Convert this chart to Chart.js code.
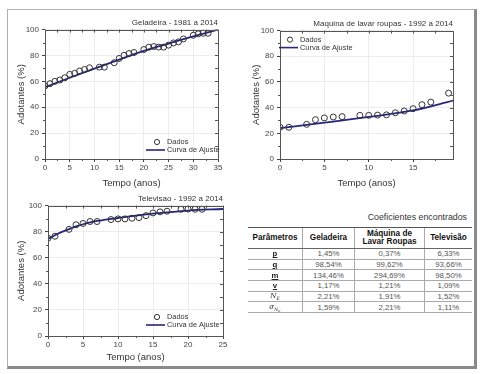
<!DOCTYPE html>
<html>
<head>
<meta charset="utf-8">
<script src="https://cdn.jsdelivr.net/npm/chart.js@4.4.1/dist/chart.umd.min.js"></script>
<style>
body{margin:0;width:481px;height:374px;background:#fff;position:relative;overflow:hidden;font-family:"Liberation Sans",Arial,sans-serif;}
#frame{position:absolute;left:7px;top:9px;width:466px;height:356px;border-left:1px solid #b0b0b0;border-top:1px solid #b0b0b0;border-right:3px solid #8a8a8a;border-bottom:3px solid #8a8a8a;}
canvas{position:absolute;}
#c1{left:8px;top:12px;}
#c2{left:243px;top:13px;}
#c3{left:8px;top:188px;}
#cap{position:absolute;left:290px;width:177px;top:212px;text-align:right;font-size:8.8px;color:#333;}
table{position:absolute;left:248px;top:227px;width:221px;border-collapse:collapse;font-size:7.8px;color:#555;table-layout:fixed;}
th{color:#111;font-weight:bold;font-size:8.2px;height:20px;line-height:8.5px;padding:0;border-top:1px solid #555;border-bottom:1px solid #666;}
td{height:9.7px;padding:0;text-align:center;border-bottom:1px solid #aaa;line-height:9px;overflow:hidden;}
th+th,td+td{border-left:1px solid #aaa;}
td.p{color:#222;font-weight:bold;text-decoration:underline;}
td.i{color:#222;font-style:italic;font-family:"DejaVu Serif",serif;font-size:7px;}
.sb{font-size:4.5px;position:relative;top:2px;line-height:0;}
</style>
</head>
<body>
<div id="frame"></div>
<canvas id="c1" width="222" height="182"></canvas>
<canvas id="c2" width="225" height="181"></canvas>
<canvas id="c3" width="225" height="180"></canvas>
<div id="cap">Coeficientes encontrados</div>
<table id="tab"></table>
<script>
// Geladeira 1981-2014
var gelT = [0,1,2,3,4,5,6,7,8,9,11,12,14,15,16,17,18,20,21,22,23,24,25,26,27,28,30,31,32,33];
var gelY = [56.5,58.2,60,61,62.8,65.4,66.2,68,69.2,70.5,71,71,74.4,77.7,80.2,81.5,82.3,84.6,86.4,86.9,86.5,86.5,88,89.7,90.5,92.8,95.6,96.7,97.2,97.2];
var gelFitT = [0,5,10,15,20,25,30,35];
var gelFitY = [55.5,62.8,69.8,76.8,83.5,89.2,94.8,100];

// Maquina de lavar 1992-2014
var maqT = [0,1,3,4,5,6,7,9,10,11,12,13,14,15,16,17,19];
var maqY = [24.7,24.7,27,30.6,32,32.7,33,34,34,34.2,34.4,36,37.4,39.2,42.3,44.3,51.3];
var maqFitT = [0,5,10,15,19.5];
var maqFitY = [24,28.3,32.8,37.8,45.5];

// Televisao 1992-2014
var tvT = [0,1,3,4,5,6,7,9,10,11,12,13,14,15,16,17,19,20,21,22];
var tvY = [75,76.5,81.8,85.3,86.3,87.8,87.8,89.3,89.8,89.8,90.3,90.8,92.3,94.4,95.2,95.7,97.2,97.4,97.2,97.2];
var tvFitT = [0,1,2,3,4,5,7,10,12,15,20,25];
var tvFitY = [74.5,77.3,79.8,82,84,85.7,88.2,90.5,92,93.8,96.2,97.4];

var yTicks = [0,20,40,60,80,100];

// tabela de coeficientes
var colHeads = ["Parâmetros","Geladeira","Máquina de<br>Lavar Roupas","Televisão"];
var params = ["p","q","m","v","N<span class='sb'>E</span>","σ<span class='sb'>N<sub style='font-size:3.5px'>E</sub></span>"];
var gelCoef = ["1,45%","98,54%","134,46%","1,17%","2,21%","1,59%"];
var maqCoef = ["0,37%","99,62%","294,69%","1,21%","1,91%","2,21%"];
var tvCoef = ["6,33%","93,66%","98,50%","1,09%","1,52%","1,11%"];

var FONT = "'Liberation Sans', Arial, sans-serif";
var NAVY = "#25267e";

function pts(xs, ys) {
    return xs.map(function(x, i) { return {x: x, y: ys[i]}; });
}

// caixa em volta da area do grafico + ticks menores
var framePlugin = {
    id: "frame",
    afterDatasetsDraw: function(chart) {
        var ctx = chart.ctx, a = chart.chartArea;
        var xs = chart.scales.x, ys = chart.scales.y;
        ctx.save();
        ctx.strokeStyle = "#555";
        ctx.lineWidth = 1;
        ctx.strokeRect(Math.round(a.left) + 0.5, Math.round(a.top) + 0.5, Math.round(a.right - a.left), Math.round(a.bottom - a.top));
        ctx.beginPath();
        for (var v = 0; v <= xs.max; v += 2.5) {
            var px = Math.round(xs.getPixelForValue(v)) + 0.5;
            ctx.moveTo(px, a.top); ctx.lineTo(px, a.top + 3);
            if (v % 5 != 0) { ctx.moveTo(px, a.bottom); ctx.lineTo(px, a.bottom + 2); }
        }
        for (var w = 0; w <= 100; w += 10) {
            var py = Math.round(ys.getPixelForValue(w)) + 0.5;
            ctx.moveTo(a.right, py); ctx.lineTo(a.right - 3, py);
            if (w % 20 != 0) { ctx.moveTo(a.left, py); ctx.lineTo(a.left - 2, py); }
        }
        ctx.stroke();
        ctx.restore();
    }
};

// legenda dentro da area do grafico
var innerLegend = {
    id: "innerLegend",
    afterDraw: function(chart, args, o) {
        var ctx = chart.ctx, a = chart.chartArea;
        var tx = o.corner == "tl" ? a.left + o.dx : a.right + o.dx;
        var y0 = o.corner == "tl" ? a.top + o.dy : a.bottom + o.dy;
        var ds = chart.data.datasets;
        ctx.save();
        ctx.font = "7.4px " + FONT;
        ctx.fillStyle = "#333";
        ctx.textBaseline = "middle";
        // Dados
        ctx.beginPath();
        ctx.arc(tx - 10, y0, 2.6, 0, 2 * Math.PI);
        ctx.strokeStyle = "#333";
        ctx.lineWidth = 1;
        ctx.stroke();
        ctx.fillText(ds[0].label, tx, y0);
        // Curva de Ajuste
        ctx.beginPath();
        ctx.moveTo(tx - 21, y0 + 8);
        ctx.lineTo(tx - 2, y0 + 8);
        ctx.strokeStyle = NAVY;
        ctx.lineWidth = 1.6;
        ctx.stroke();
        ctx.fillText(ds[1].label, tx, y0 + 8);
        ctx.restore();
    }
};

function makeChart(id, title, dT, dY, fT, fY, xMax, yw, xh, padR, leg) {
    new Chart(document.getElementById(id), {
        type: "scatter",
        data: {
            datasets: [{
                label: "Dados",
                data: pts(dT, dY),
                pointRadius: 3,
                pointBorderWidth: 1,
                borderColor: "#333",
                backgroundColor: "rgba(0,0,0,0)"
            }, {
                label: "Curva de Ajuste",
                data: pts(fT, fY),
                showLine: true,
                pointRadius: 0,
                borderColor: NAVY,
                borderWidth: 1.8,
                cubicInterpolationMode: "monotone"
            }]
        },
        options: {
            responsive: false,
            animation: false,
            layout: {padding: {left: 0, right: padR, top: 0, bottom: 0}},
            plugins: {
                legend: {display: false},
                tooltip: {enabled: false},
                title: {
                    display: true, text: title, align: "end", fullSize: false,
                    color: "#333", font: {family: FONT, size: 8, weight: "normal"},
                    padding: {top: 6, bottom: 2}
                },
                innerLegend: leg
            },
            scales: {
                x: {
                    type: "linear", min: 0, max: xMax,
                    ticks: {stepSize: 5, includeBounds: false, color: "#444", padding: 1, font: {family: FONT, size: 8}},
                    grid: {color: "#ececec", tickColor: "#444", tickLength: 3},
                    border: {display: false},
                    title: {display: true, text: "Tempo (anos)", color: "#333", font: {family: FONT, size: 9.5}, padding: {top: 2, bottom: 5}},
                    afterFit: function(s) { s.height = xh; }
                },
                y: {
                    min: 0, max: 100,
                    afterBuildTicks: function(s) { s.ticks = yTicks.map(function(v) { return {value: v}; }); },
                    ticks: {color: "#444", padding: 3, font: {family: FONT, size: 8}},
                    grid: {color: "#ececec", tickColor: "#444", tickLength: 3},
                    border: {display: false},
                    title: {display: true, text: "Adotantes (%)", color: "#333", font: {family: FONT, size: 9.5}, padding: {top: 8, bottom: 2}},
                    afterFit: function(s) { s.width = yw; }
                }
            }
        },
        plugins: [framePlugin, innerLegend]
    });
}

makeChart("c1", "Geladeira - 1981 a 2014", gelT, gelY, gelFitT, gelFitY, 35, 37, 35, 12,
    {corner: "br", dx: -51, dy: -17});
makeChart("c2", "Maquina de lavar roupas - 1992 a 2014", maqT, maqY, maqFitT, maqFitY, 19.5, 37, 35, 15,
    {corner: "tl", dx: 20, dy: 9});
makeChart("c3", "Televisao - 1992 a 2014", tvT, tvY, tvFitT, tvFitY, 25, 40, 32, 10,
    {corner: "br", dx: -56, dy: -19});

// monta a tabela
var widths = [54, 51, 69, 47];
var html = "<tr>" + colHeads.map(function(h, k) { return "<th style='width:" + widths[k] + "px'>" + h + "</th>"; }).join("") + "</tr>";
for (var i = 0; i < params.length; i++) {
    html += "<tr><td class='" + (i < 4 ? "p" : "i") + "'>" + params[i] + "</td><td>" + gelCoef[i] + "</td><td>" + maqCoef[i] + "</td><td>" + tvCoef[i] + "</td></tr>";
}
document.getElementById("tab").innerHTML = html;
</script>
</body>
</html>
